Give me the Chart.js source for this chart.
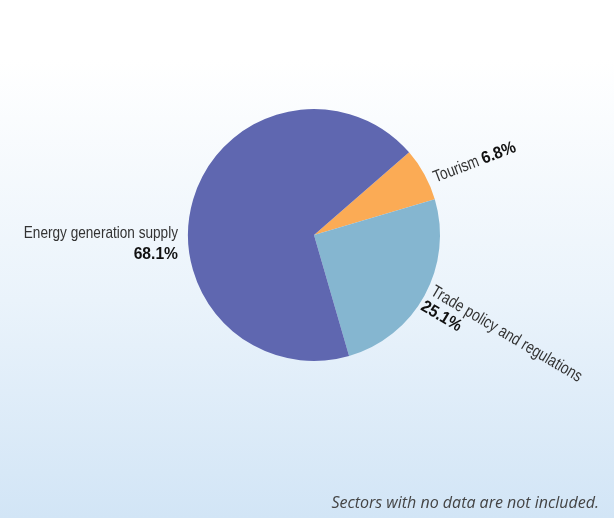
<!DOCTYPE html>
<html>
<head>
<meta charset="utf-8">
<script src="https://cdn.jsdelivr.net/npm/chart.js@4.4.0/dist/chart.umd.min.js"></script>
<style>
html,body{margin:0;padding:0;width:614px;height:518px;overflow:hidden;}
body{background:linear-gradient(to bottom,#ffffff 0px,#ffffff 60px,#eaf3fb 300px,#d2e5f6 518px);}
#wrap{position:relative;width:614px;height:518px;}
</style>
</head>
<body>
<div id="wrap"><canvas id="c" width="614" height="518"></canvas></div>
<script>
const categories = ["Tourism", "Trade policy and regulations", "Energy generation supply"];
const shares = [6.8, 25.1, 68.1];
const percentLabels = ["6.8%", "25.1%", "68.1%"];
const colors = ["#fbab55", "#85b6d0", "#5f67b0"];
const footnote = "Sectors with no data are not included.";

const FAM = '"Liberation Sans", Arial, sans-serif';

function condText(ctx, text, x, y, align, font, color, sx) {
  ctx.save();
  ctx.font = font;
  ctx.fillStyle = color;
  const w = ctx.measureText(text).width * sx;
  let left = x;
  if (align === 'right') left = x - w;
  ctx.translate(left, y);
  ctx.scale(sx, 1);
  ctx.textAlign = 'left';
  ctx.textBaseline = 'alphabetic';
  ctx.fillText(text, 0, 0);
  ctx.restore();
  return w;
}

const labelPlugin = {
  id: 'sliceLabels',
  afterDatasetsDraw(chart) {
    const ctx = chart.ctx;
    const arcs = chart.getDatasetMeta(0).data;
    const REG = '17px ' + FAM, BOLD = 'bold 17px ' + FAM;
    const SR = 0.80, SB = 0.92;
    ctx.save();
    arcs.forEach((arc, i) => {
      const p = arc.getProps(['x','y','startAngle','endAngle','outerRadius'], true);
      const mid = (p.startAngle + p.endAngle) / 2;
      const name = categories[i], pct = percentLabels[i];
      if (i === 0) {
        const ax = p.x + Math.cos(mid) * (p.outerRadius + 6) + 6;
        const ay = p.y + Math.sin(mid) * (p.outerRadius + 6) + 11;
        ctx.save();
        ctx.translate(ax, ay);
        ctx.rotate(-21 * Math.PI / 180);
        const w = condText(ctx, name + ' ', 0, 0, 'left', REG, '#333', SR);
        condText(ctx, pct, w, 0, 'left', BOLD, '#111', SB);
        ctx.restore();
      } else if (i === 1) {
        const ax = p.x + Math.cos(mid) * (p.outerRadius + 6);
        const ay = p.y + Math.sin(mid) * (p.outerRadius + 6) - 4;
        ctx.save();
        ctx.translate(ax, ay);
        ctx.rotate(mid + 2 * Math.PI / 180);
        condText(ctx, name, 0, 0, 'left', REG, '#333', SR + 0.01);
        condText(ctx, pct, -1, 18, 'left', BOLD, '#111', SB);
        ctx.restore();
      } else {
        const ax = p.x - p.outerRadius - 10;
        const ay = p.y + 3;
        condText(ctx, name, ax, ay, 'right', REG, '#333', SR);
        condText(ctx, pct, ax, ay + 21, 'right', BOLD, '#111', SB);
      }
    });
    ctx.font = 'italic 16px "Open Sans", "DejaVu Sans", sans-serif';
    ctx.fillStyle = '#444';
    ctx.textAlign = 'right';
    ctx.textBaseline = 'alphabetic';
    ctx.fillText(footnote, chart.width - 15, chart.height - 10);
    ctx.restore();
  }
};

new Chart(document.getElementById('c'), {
  type: 'pie',
  data: {
    labels: categories,
    datasets: [{
      data: shares,
      backgroundColor: colors,
      borderWidth: 0,
      hoverOffset: 0
    }]
  },
  options: {
    responsive: false,
    animation: false,
    rotation: 49,
    layout: { padding: { top: 109, bottom: 157, left: 14, right: 0 } },
    plugins: { legend: { display: false }, tooltip: { enabled: false } }
  },
  plugins: [labelPlugin]
});
</script>
</body>
</html>
